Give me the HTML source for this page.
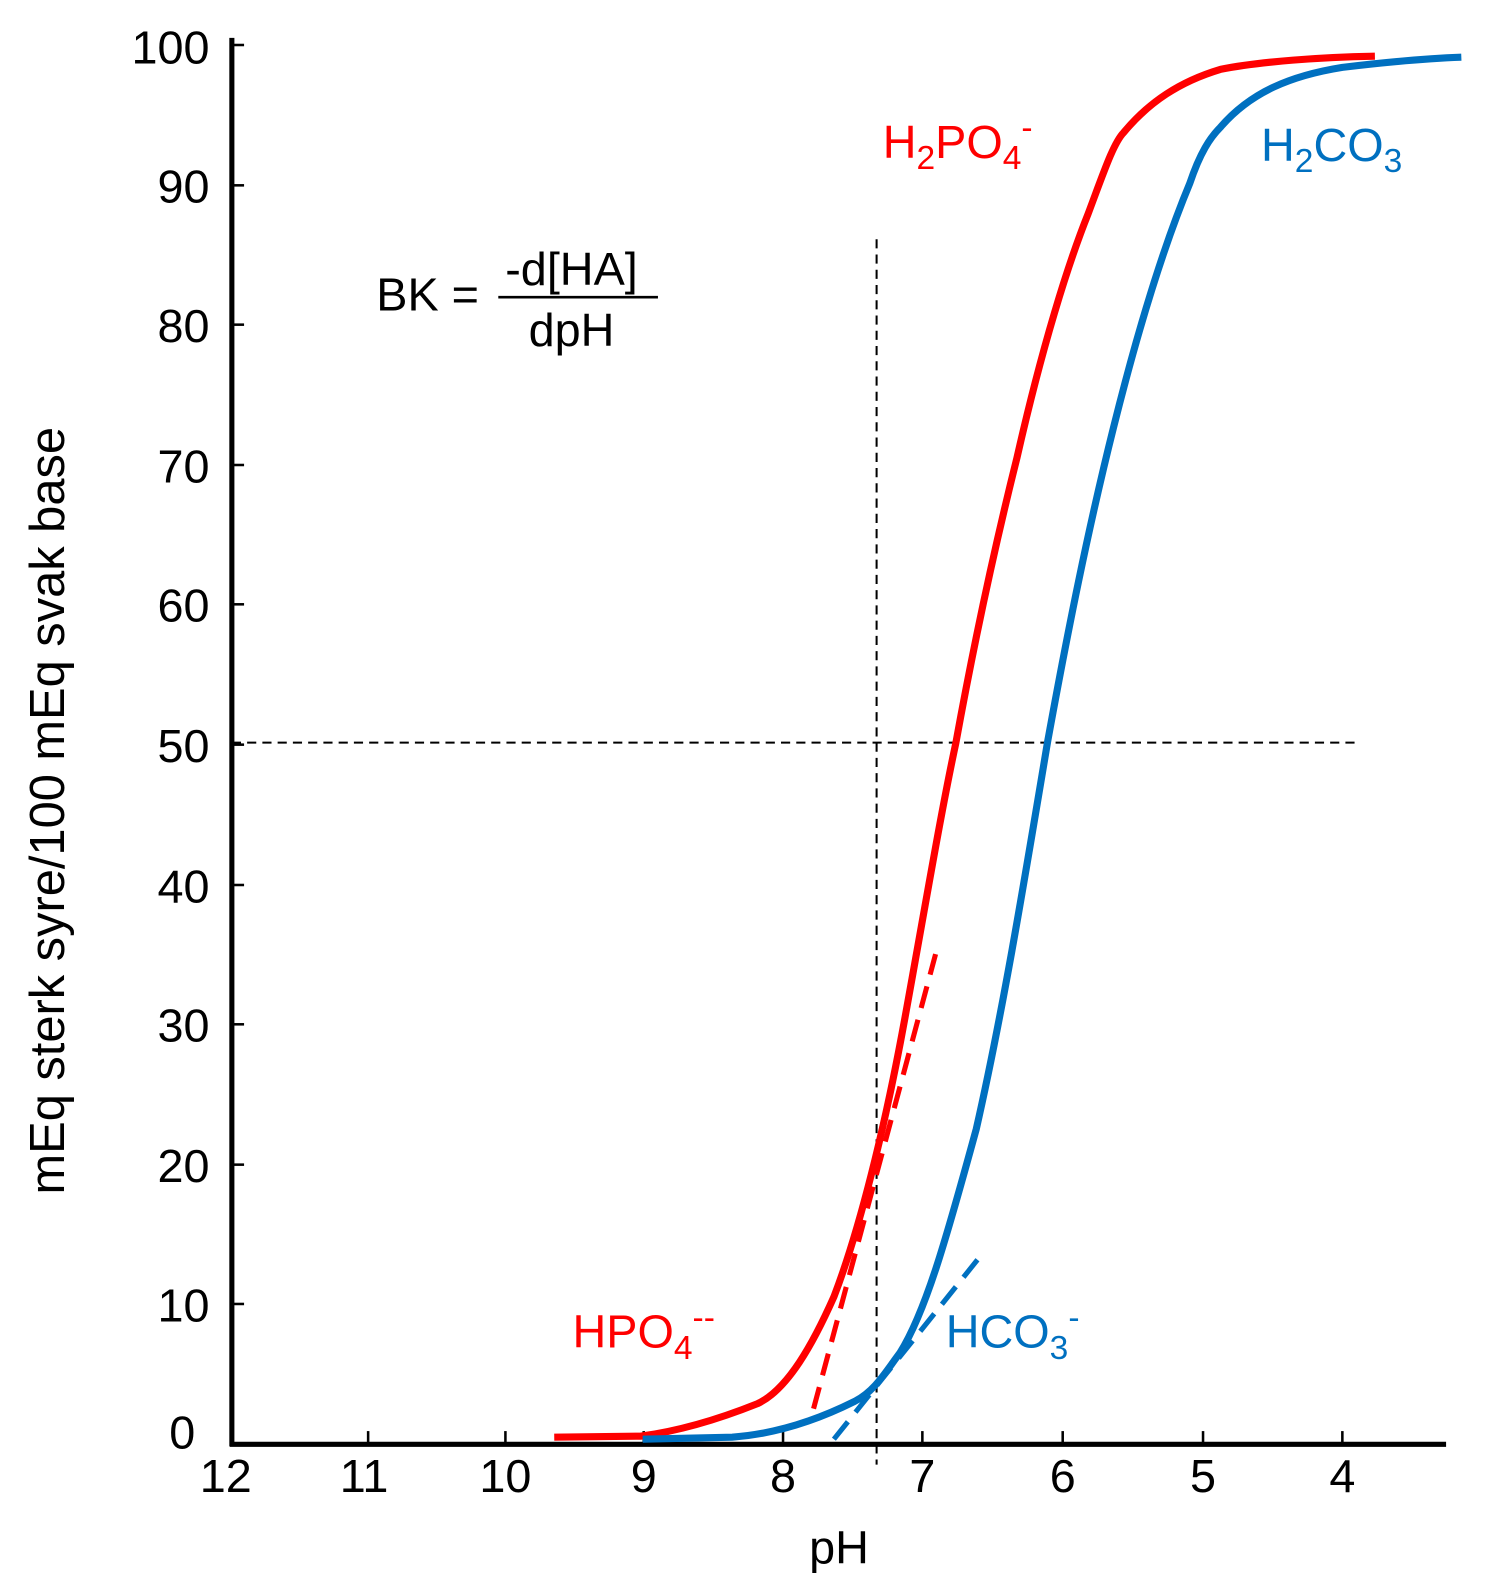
<!DOCTYPE html>
<html><head><meta charset="utf-8"><style>
html,body{margin:0;padding:0;background:#fff}
svg{display:block}
text{font-family:"Liberation Sans",sans-serif}
</style></head><body>
<svg width="1501" height="1591" viewBox="0 0 1476 1564" xmlns="http://www.w3.org/2000/svg">
<g stroke="#000" stroke-width="5" fill="none">
<line x1="228" y1="37" x2="228" y2="1422"/>
<line x1="226" y1="1420" x2="1422" y2="1420"/>
</g>
<g stroke="#000" stroke-width="2.5">
<line x1="228" y1="44" x2="240" y2="44"/><line x1="228" y1="182" x2="240" y2="182"/>
<line x1="228" y1="319" x2="240" y2="319"/><line x1="228" y1="457" x2="240" y2="457"/>
<line x1="228" y1="594" x2="240" y2="594"/><line x1="228" y1="732" x2="240" y2="732"/>
<line x1="228" y1="870" x2="240" y2="870"/><line x1="228" y1="1007" x2="240" y2="1007"/>
<line x1="228" y1="1145" x2="240" y2="1145"/><line x1="228" y1="1282" x2="240" y2="1282"/>
<line x1="362" y1="1420" x2="362" y2="1407"/><line x1="497" y1="1420" x2="497" y2="1407"/>
<line x1="633" y1="1420" x2="633" y2="1407"/><line x1="770" y1="1420" x2="770" y2="1407"/>
<line x1="907" y1="1420" x2="907" y2="1407"/><line x1="1045" y1="1420" x2="1045" y2="1407"/>
<line x1="1183" y1="1420" x2="1183" y2="1407"/><line x1="1320" y1="1420" x2="1320" y2="1407"/>
</g>
<g font-size="46" text-anchor="end" fill="#000">
<text x="206" y="62">100</text><text x="206" y="199">90</text><text x="206" y="336">80</text>
<text x="206" y="474">70</text><text x="206" y="611">60</text><text x="206" y="749">50</text>
<text x="206" y="887">40</text><text x="206" y="1024">30</text><text x="206" y="1162">20</text>
<text x="206" y="1299">10</text><text x="192" y="1424">0</text>
</g>
<g font-size="46" text-anchor="middle" fill="#000">
<text x="222" y="1467">12</text><text x="358" y="1467">11</text><text x="497" y="1467">10</text>
<text x="633" y="1467">9</text><text x="770" y="1467">8</text><text x="907" y="1467">7</text>
<text x="1045" y="1467">6</text><text x="1183" y="1467">5</text><text x="1320" y="1467">4</text>
<text x="825" y="1537">pH</text>
</g>
<text transform="translate(63,797) rotate(-90)" font-size="48" text-anchor="middle">mEq sterk syre/100 mEq svak base</text>
<g stroke="#000" stroke-width="2" stroke-dasharray="9,6">
<line x1="228" y1="730" x2="1335" y2="730"/>
<line x1="862" y1="235" x2="862" y2="1440"/>
</g>
<text x="370" y="305" font-size="46">BK =</text>
<text x="562" y="280" font-size="46" text-anchor="middle">-d[HA]</text>
<line x1="490" y1="292" x2="647" y2="292" stroke="#000" stroke-width="2.5"/>
<text x="562" y="340" font-size="46" text-anchor="middle">dpH</text>
<path d="M545,1413 L630,1412 C660,1408 700,1398 745,1380 C775,1366 800,1320 820,1275 C845,1210 870,1110 890,1000 C910,890 925,800 940,730 C960,620 980,530 1000,450 C1025,340 1050,260 1070,210 C1085,170 1095,140 1105,130 C1130,100 1160,80 1200,68 C1240,60 1300,56 1352,55" fill="none" stroke="#f00" stroke-width="7"/>
<path d="M632,1415 L720,1413 C760,1410 800,1398 840,1378 C860,1368 870,1350 885,1330 C910,1290 930,1220 960,1110 C985,1000 1005,880 1030,730 C1050,620 1070,520 1095,420 C1120,320 1145,240 1170,180 C1180,150 1190,135 1200,125 C1230,90 1270,74 1320,66 C1370,60 1410,57 1437,56" fill="none" stroke="#0070c0" stroke-width="7"/>
<line x1="800" y1="1385" x2="920" y2="938" stroke="#f00" stroke-width="5" stroke-dasharray="22,12"/>
<line x1="820" y1="1415" x2="968" y2="1230" stroke="#0070c0" stroke-width="5" stroke-dasharray="22,12"/>
<g font-size="46">
<text x="868" y="155" fill="#f00">H<tspan font-size="33" dy="11">2</tspan><tspan dy="-11">PO</tspan><tspan font-size="33" dy="11">4</tspan><tspan font-size="33" dy="-30">-</tspan></text>
<text x="1240" y="158" fill="#0070c0">H<tspan font-size="33" dy="11">2</tspan><tspan dy="-11">CO</tspan><tspan font-size="33" dy="11">3</tspan></text>
<text x="563" y="1325" fill="#f00">HPO<tspan font-size="33" dy="11">4</tspan><tspan font-size="33" dy="-30">--</tspan></text>
<text x="930" y="1325" fill="#0070c0">HCO<tspan font-size="33" dy="11">3</tspan><tspan font-size="33" dy="-30">-</tspan></text>
</g>
</svg>
</body></html>
